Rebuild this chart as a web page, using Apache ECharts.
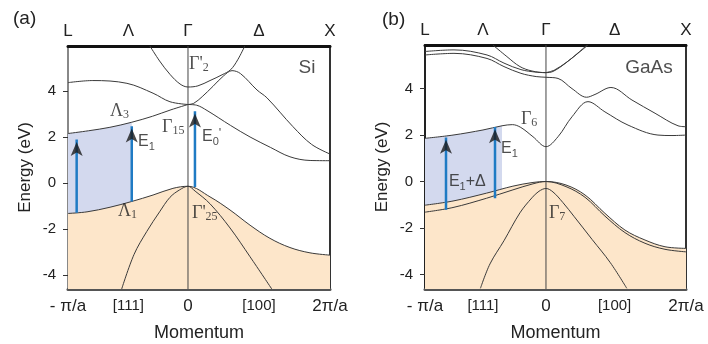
<!DOCTYPE html>
<html>
<head>
<meta charset="utf-8">
<script src="https://cdn.jsdelivr.net/npm/echarts@6/dist/echarts.min.js"></script>
<style>
html, body { margin: 0; padding: 0; background: #fff; }
#main { width: 708px; height: 344px; }
</style>
</head>
<body>
<div id="main"></div>
<script>
// momentum axis: Γ = 0, X = 1, L on the left
var kTicksA = [-0.845, -0.42, 0, 0.5, 1];
var kTicksB = [-0.864, -0.45, 0, 0.49, 1];
var bottomLabels = ['- π/a', '[111]', '0', '[100]', '2π/a'];
var topLabels = ['L', 'Λ', 'Γ', 'Δ', 'X'];
var eTicks = [-4, -2, 0, 2, 4];
var eRangeA = [-4.6, 5.95];
var eRangeB = [-4.63, 5.88];

// Si bands, [k, E in eV]
var siUpperLeft = [[-0.845, 4.36], [-0.67, 4.45], [-0.43, 4.33], [-0.246, 3.9], [-0.127, 3.53], [0, 3.41]];
var siLambda3 = [[-0.845, 2.15], [-0.7, 2.27], [-0.55, 2.42], [-0.396, 2.64], [-0.25, 2.9], [-0.12, 3.18], [0, 3.41]];
var siGamma2 = [[-0.268, 5.95], [-0.2, 5.3], [-0.127, 4.72], [-0.056, 4.3], [0, 4.17], [0.07, 4.22], [0.155, 4.45], [0.24, 4.7], [0.3, 4.92], [0.35, 5.35], [0.4, 5.95]];
var siDeltaUp = [[0, 3.41], [0.04, 3.46], [0.1, 3.75], [0.176, 4.2], [0.25, 4.65], [0.31, 4.88], [0.37, 4.75], [0.486, 4.04], [0.556, 3.7], [0.739, 2.45], [0.87, 1.68], [1, 1.26]];
var siDeltaDown = [[0, 3.41], [0.06, 3.38], [0.134, 3.15], [0.3, 2.5], [0.437, 2.0], [0.58, 1.55], [0.718, 1.14], [0.86, 0.98], [1, 0.97]];
var siValence = [[-0.845, -1.32], [-0.711, -1.25], [-0.549, -1.05], [-0.396, -0.8], [-0.246, -0.52], [-0.106, -0.23], [0, -0.14], [0.155, -0.6], [0.296, -1.17], [0.437, -1.83], [0.577, -2.4], [0.718, -2.8], [0.859, -3.03], [1, -3.13]];
var siLight = [[-0.467, -4.6], [-0.38, -3.1], [-0.29, -2.1], [-0.2, -1.25], [-0.127, -0.62], [-0.06, -0.3], [0, -0.14], [0.05, -0.35], [0.155, -0.9], [0.296, -1.95], [0.437, -3.2], [0.59, -4.6]];
var siBlueEnd = 4; // points of siLambda3 under the blue fill
var siArrows = [[-0.784, -1.29, 2.09], [-0.396, -0.8, 2.67], [0.049, -0.17, 3.32]];

// GaAs bands
var gaTop1 = [[-0.864, 5.6], [-0.657, 5.67], [-0.421, 5.45], [-0.3, 5.1], [-0.179, 4.82], [-0.07, 4.71], [0, 4.69]];
var gaTop2 = [[-0.864, 5.45], [-0.657, 5.52], [-0.421, 5.3], [-0.3, 4.95], [-0.179, 4.66], [-0.07, 4.52], [0, 4.49], [0.086, 4.44], [0.186, 4.0], [0.29, 3.63], [0.35, 3.75], [0.464, 4.05], [0.614, 3.51], [0.779, 2.94], [0.943, 2.4], [1, 2.36]];
var gaParab = [[-0.379, 5.88], [-0.279, 5.38], [-0.186, 4.95], [-0.1, 4.76], [0, 4.69], [0.05, 4.74], [0.136, 5.08], [0.229, 5.54], [0.293, 5.88]];
var gaParab2 = [[0, 4.69], [0.06, 4.8], [0.15, 5.15], [0.24, 5.58], [0.3, 5.88]];
var gaGamma6 = [[-0.864, 1.86], [-0.664, 2.0], [-0.45, 2.22], [-0.314, 2.4], [-0.24, 2.45], [-0.18, 2.33], [-0.093, 1.93], [0, 1.5], [0.086, 1.93], [0.186, 2.79], [0.3, 3.44], [0.421, 3.0], [0.586, 2.43], [0.8, 2.0], [0.9, 1.98], [1, 2.0]];
var gaHeavy = [[-0.864, -1.02], [-0.664, -0.84], [-0.424, -0.5], [-0.236, -0.2], [-0.093, -0.04], [0, 0], [0.143, -0.15], [0.279, -0.58], [0.421, -1.37], [0.564, -2.09], [0.707, -2.52], [0.85, -2.81], [1, -2.88]];
var gaLight = [[-0.864, -1.32], [-0.664, -1.12], [-0.424, -0.72], [-0.236, -0.36], [-0.093, -0.1], [0, 0], [0.143, -0.22], [0.279, -0.68], [0.421, -1.49], [0.564, -2.2], [0.707, -2.66], [0.85, -2.92], [1, -3.03]];
var gaSplit = [[-0.468, -4.6], [-0.4, -3.55], [-0.3, -2.55], [-0.186, -1.35], [-0.1, -0.7], [-0.05, -0.42], [0, -0.3], [0.05, -0.45], [0.12, -0.9], [0.2, -1.5], [0.33, -2.5], [0.46, -3.5], [0.577, -4.6]];
var gaBlueEnd = 4;
var gaArrows = [[-0.714, -1.22, 2.1], [-0.364, -0.72, 2.55]];

// text inside the panels: [rich text, k, E, align]
var siNotes = [
    ["{g|Γ'}{gs|2}", 0.007, 5.17, 'left'],
    ['{t|Si}', 0.838, 5.02, 'center'],
    ['{g|Λ}{gs|3}', -0.549, 3.13, 'left'],
    ['{g|Γ}{gs|15}', -0.183, 2.43, 'left'],
    ['{e|E}{es|1}', -0.352, 1.78, 'left'],
    ["{e|E}{es|0}{ep|'}", 0.099, 2.0, 'left'],
    ['{g|Λ}{gs|1}', -0.493, -1.22, 'left'],
    ["{g|Γ'}{gs|25}", 0.028, -1.3, 'left']
];
var gaNotes = [
    ['{t|GaAs}', 0.736, 4.91, 'center'],
    ['{g|Γ}{gs|6}', -0.179, 2.69, 'left'],
    ['{e|E}{es|1}', -0.321, 1.4, 'left'],
    ['{e|E}{es|1}{e|+Δ}', -0.693, -0.02, 'left'],
    ['{g|Γ}{gs|7}', 0.021, -1.36, 'left']
];

var ink = '#3a3a3a';
var sans = 'Liberation Sans';
var serif = 'Liberation Serif';
var rich = {
    g: { fontFamily: serif, fontSize: 18, color: '#222', lineHeight: 20 },
    gs: { fontFamily: serif, fontSize: 12, color: '#222', verticalAlign: 'bottom', lineHeight: 10 },
    e: { fontFamily: sans, fontSize: 16, color: '#222', lineHeight: 20 },
    es: { fontFamily: sans, fontSize: 11, color: '#222', verticalAlign: 'bottom', lineHeight: 9 },
    ep: { fontFamily: sans, fontSize: 13, color: '#222', verticalAlign: 'top', lineHeight: 12 },
    t: { fontFamily: sans, fontSize: 19, color: '#222' }
};

function curve(g, data) {
    return {
        type: 'line', xAxisIndex: g * 2, yAxisIndex: g * 2, data: data,
        symbol: 'none', smooth: 0.35, silent: true, z: 3,
        lineStyle: { color: ink, width: 1 }
    };
}
function fill(g, data, color, z) {
    return {
        type: 'line', xAxisIndex: g * 2, yAxisIndex: g * 2, data: data,
        symbol: 'none', smooth: 0.35, silent: true, z: z,
        lineStyle: { width: 0 },
        areaStyle: { color: color, opacity: 1, origin: 'start' }
    };
}
function gammaLine(g, range) {
    return {
        type: 'line', xAxisIndex: g * 2, yAxisIndex: g * 2,
        data: [[0, range[0]], [0, range[1]]], symbol: 'none', silent: true, z: 3,
        lineStyle: { color: '#444', width: 1 }
    };
}
function arrows(g, list) {
    var out = [];
    list.forEach(function (a) {
        out.push({
            type: 'line', xAxisIndex: g * 2, yAxisIndex: g * 2,
            data: [[a[0], a[1]], [a[0], a[2] - 0.2]], symbol: 'none', silent: true, z: 4,
            lineStyle: { color: '#1f7bc4', width: 2.5 }
        });
    });
    out.push({
        type: 'scatter', xAxisIndex: g * 2, yAxisIndex: g * 2,
        data: list.map(function (a) { return [a[0], a[2]]; }),
        symbol: 'arrow', symbolSize: [9, 14], symbolOffset: [0, '50%'],
        itemStyle: { color: '#1a1a1a' }, silent: true, z: 5
    });
    return out;
}
function notes(g, list) {
    return {
        type: 'scatter', xAxisIndex: g * 2, yAxisIndex: g * 2, symbolSize: 0, silent: true, z: 6,
        data: list.map(function (n) {
            return {
                value: [n[1], n[2]],
                label: { show: true, position: [0, 0], formatter: n[0], align: n[3], verticalAlign: 'middle', rich: rich }
            };
        })
    };
}

function xAxes(g, ticks, bottomColor, topColor) {
    function pick(labels) {
        return function (v) {
            for (var i = 0; i < ticks.length; i++) if (Math.abs(ticks[i] - v) < 1e-6) {
                var s = labels[i];
                if (labels === topLabels) return '{t|' + s + '}';
                return s.charAt(0) === '[' ? '{s|' + s + '}' : '{m|' + s + '}';
            }
            return '';
        };
    }
    var base = { type: 'value', gridIndex: g, min: ticks[0], max: 1, splitLine: { show: false }, axisTick: { show: false } };
    return [
        Object.assign({}, base, {
            position: 'bottom',
            name: 'Momentum', nameLocation: 'middle', nameGap: 35,
            nameTextStyle: { fontFamily: sans, fontSize: 18, color: '#222' },
            axisLine: { onZero: false, lineStyle: { color: bottomColor, width: 3 } },
            axisLabel: {
                customValues: ticks, margin: 9, formatter: pick(bottomLabels),
                rich: {
                    m: { fontFamily: sans, fontSize: 17, color: '#222' },
                    s: { fontFamily: sans, fontSize: 15, color: '#222' }
                }
            }
        }),
        Object.assign({}, base, {
            position: 'top',
            axisLine: { onZero: false, lineStyle: { color: topColor, width: 3 } },
            axisLabel: {
                customValues: ticks, margin: 6, formatter: pick(topLabels),
                rich: { t: { fontFamily: sans, fontSize: 17, color: '#222' } }
            }
        })
    ];
}
function yAxes(g, range, leftColor, rightColor) {
    return [
        {
            type: 'value', gridIndex: g, position: 'left', min: range[0], max: range[1],
            name: 'Energy (eV)', nameLocation: 'middle', nameGap: 34, nameRotate: 90,
            nameTextStyle: { fontFamily: sans, fontSize: 17, color: '#222' },
            splitLine: { show: false },
            axisLine: { onZero: false, lineStyle: { color: leftColor, width: 2 } },
            axisTick: { show: true, inside: false, length: 5, customValues: eTicks, lineStyle: { color: '#333', width: 1 } },
            axisLabel: { customValues: eTicks, margin: 12, fontFamily: sans, fontSize: 15, color: '#222' }
        },
        {
            type: 'value', gridIndex: g, position: 'right', min: range[0], max: range[1],
            splitLine: { show: false }, axisTick: { show: false }, axisLabel: { show: false },
            axisLine: { show: true, onZero: false, lineStyle: { color: rightColor, width: 2 } }
        }
    ];
}

var blue = '#d3d9ee';
var peach = '#fde6ca';

var series = [
    fill(0, siLambda3.slice(0, siBlueEnd), blue, 1),
    fill(0, siValence, peach, 2),
    gammaLine(0, eRangeA),
    curve(0, siUpperLeft), curve(0, siLambda3), curve(0, siGamma2),
    curve(0, siDeltaUp), curve(0, siDeltaDown), curve(0, siValence), curve(0, siLight),
    notes(0, siNotes),

    fill(1, gaGamma6.slice(0, gaBlueEnd), blue, 1),
    fill(1, gaHeavy, peach, 2),
    gammaLine(1, eRangeB),
    curve(1, gaTop1), curve(1, gaTop2), curve(1, gaParab), curve(1, gaParab2),
    curve(1, gaGamma6), curve(1, gaHeavy), curve(1, gaLight), curve(1, gaSplit),
    notes(1, gaNotes)
].concat(arrows(0, siArrows), arrows(1, gaArrows));

var chart = echarts.init(document.getElementById('main'), null, { renderer: 'canvas' });
chart.setOption({
    animation: false,
    backgroundColor: '#fff',
    title: [
        { text: '(a)', left: 8, top: 4, textStyle: { fontFamily: sans, fontSize: 19, fontWeight: 'normal', color: '#222' } },
        { text: '(b)', left: 377, top: 5, textStyle: { fontFamily: sans, fontSize: 19, fontWeight: 'normal', color: '#222' } }
    ],
    grid: [
        { left: 68, top: 46, width: 262, height: 243, outerBoundsMode: 'none', containLabel: false },
        { left: 425, top: 45, width: 261, height: 244, outerBoundsMode: 'none', containLabel: false }
    ],
    xAxis: xAxes(0, kTicksA, '#555', '#111').concat(xAxes(1, kTicksB, '#555', '#111')),
    yAxis: yAxes(0, eRangeA, '#888', '#333').concat(yAxes(1, eRangeB, '#222', '#333')),
    series: series
});
</script>
</body>
</html>
